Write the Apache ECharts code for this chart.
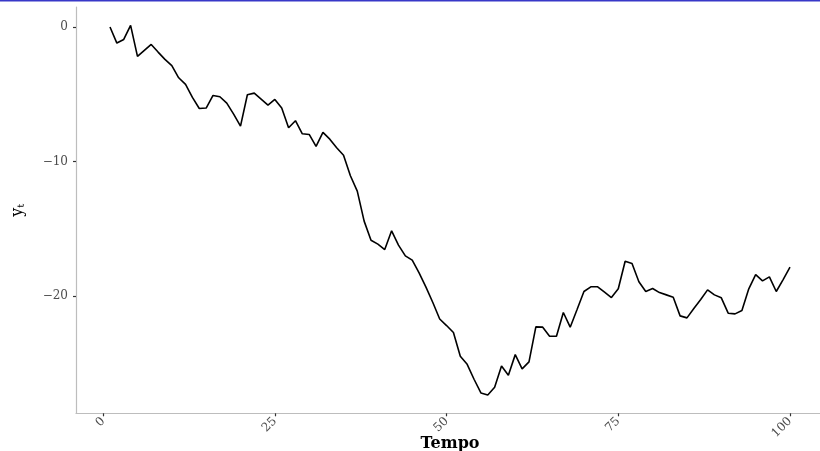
<!DOCTYPE html>
<html>
<head>
<meta charset="utf-8">
<script src="https://cdn.jsdelivr.net/npm/echarts@6/dist/echarts.min.js"></script>
<style>html,body{margin:0;padding:0;background:#fff;}#c{width:820px;height:451px;}</style>
</head>
<body>
<div id="c"></div>
<script>
const tempo = Array.from({length: 100}, (_, i) => i + 1);
const yt = [
  0.00, -1.19, -0.92, 0.12, -2.18, -1.73, -1.29, -1.86, -2.40, -2.87,
  -3.77, -4.26, -5.23, -6.05, -6.02, -5.08, -5.18, -5.65, -6.47, -7.36,
  -5.03, -4.91, -5.35, -5.80, -5.38, -6.02, -7.48, -6.96, -7.93, -7.98,
  -8.87, -7.83, -8.33, -8.97, -9.52, -11.05, -12.19, -14.42, -15.84, -16.13,
  -16.53, -15.14, -16.20, -17.00, -17.32, -18.27, -19.33, -20.47, -21.69, -22.18,
  -22.70, -24.46, -25.06, -26.17, -27.19, -27.34, -26.77, -25.18, -25.87, -24.34,
  -25.40, -24.88, -22.28, -22.30, -22.97, -22.97, -21.21, -22.30, -20.99, -19.65,
  -19.30, -19.30, -19.70, -20.10, -19.45, -17.40, -17.57, -18.93, -19.65, -19.43,
  -19.73, -19.90, -20.07, -21.46, -21.61, -20.92, -20.25, -19.53, -19.90, -20.12,
  -21.26, -21.31, -21.06, -19.45, -18.39, -18.86, -18.56, -19.65, -18.76, -17.84
];
const xTicks = [0, 25, 50, 75, 100];
const yTicks = [-20, -10, 0];

const chart = echarts.init(document.getElementById('c'), null, {renderer: 'canvas'});
const serif = 'DejaVu Serif';
chart.setOption({
  animation: false,
  backgroundColor: '#fff',
  graphic: [{
    type: 'rect', left: 0, top: 0,
    shape: {width: 820, height: 1.5},
    style: {fill: '#3838c8'}
  }],
  grid: {left: 76, right: -4, top: 7, bottom: 37.7, outerBoundsMode: 'none', containLabel: false},
  xAxis: {
    type: 'value', min: -3.95, max: 104.95,
    splitLine: {show: false},
    axisLine: {show: true, onZero: false, lineStyle: {color: '#bdbdbd', width: 1.2}},
    axisTick: {show: true, customValues: xTicks, length: 3, lineStyle: {color: '#333', width: 1.2}},
    axisLabel: {customValues: xTicks, rotate: 45, margin: 6, color: '#4d4d4d', fontFamily: serif, fontSize: 12},
    name: 'Tempo', nameLocation: 'middle', nameGap: 23, nameMoveOverlap: false,
    nameTextStyle: {fontFamily: serif, fontWeight: 'bold', fontSize: 16, color: '#000'}
  },
  yAxis: {
    type: 'value', min: -28.7, max: 1.49,
    splitLine: {show: false},
    axisLine: {show: true, onZero: false, lineStyle: {color: '#bdbdbd', width: 1.2}},
    axisTick: {show: true, customValues: yTicks, length: 3, lineStyle: {color: '#333', width: 1.2}},
    axisLabel: {customValues: yTicks, margin: 8, color: '#4d4d4d', fontFamily: serif, fontSize: 12,
      formatter: v => String(v).replace('-', '\u2212')},
    name: '{a|y}{b|t}', nameLocation: 'middle', nameGap: 50, nameRotate: 90, nameMoveOverlap: false,
    nameTextStyle: {
      rich: {
        a: {fontFamily: serif, fontSize: 16, color: '#000'},
        b: {fontFamily: serif, fontSize: 10, color: '#000', verticalAlign: 'bottom', padding: [7, 0, 0, 0]}
      }
    }
  },
  series: [{
    type: 'line',
    data: tempo.map((t, i) => [t, yt[i]]),
    showSymbol: false,
    lineStyle: {color: '#000', width: 1.6},
    clip: false
  }]
});
</script>
</body>
</html>
